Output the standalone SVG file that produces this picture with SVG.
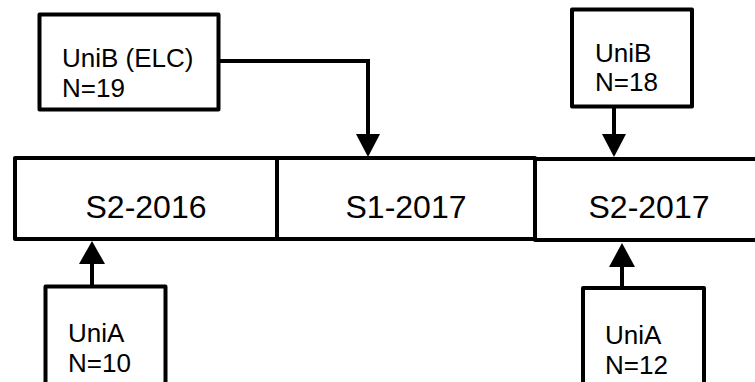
<svg xmlns="http://www.w3.org/2000/svg" width="755" height="382" viewBox="0 0 755 382">
<style>
.box{fill:#fff;stroke:#000;stroke-width:4;stroke-linejoin:round}
.sm{font-family:"Liberation Sans",Arial,sans-serif;font-size:26px;fill:#000}
.lg{font-family:"Liberation Sans",Arial,sans-serif;font-size:32px;fill:#000;text-anchor:middle}
.conn{fill:none;stroke:#000;stroke-width:4}
.head{fill:#000}
</style>
<rect width="755" height="382" fill="#fff"/>
<g id="connectors">
<polyline class="conn" points="219,61 368,61 368,136"/>
<polygon class="head" points="356,134 380,134 368,157"/>
<line class="conn" x1="614" y1="107" x2="614" y2="136"/>
<polygon class="head" points="602,134 626,134 614,157"/>
<line class="conn" x1="92" y1="287" x2="92" y2="262"/>
<polygon class="head" points="79,264 105,264 92,241"/>
<line class="conn" x1="622" y1="289" x2="622" y2="265"/>
<polygon class="head" points="609,267 635,267 622,243"/>
</g>
<g id="s2-2016">
<rect class="box" x="15" y="158" width="262" height="81"/>
<text class="lg" x="146" y="218">S2-2016</text>
</g>
<g id="s1-2017">
<rect class="box" x="277" y="158" width="258" height="81"/>
<text class="lg" x="406" y="218">S1-2017</text>
</g>
<g id="s2-2017">
<rect class="box" x="535" y="159" width="230" height="81"/>
<text class="lg" x="649" y="218">S2-2017</text>
</g>
<g id="unib-elc">
<rect class="box" x="39.5" y="14.5" width="179" height="95"/>
<text class="sm" x="62" y="67">UniB (ELC)</text>
<text class="sm" x="62" y="97">N=19</text>
</g>
<g id="unib">
<rect class="box" x="572" y="9.5" width="120" height="97"/>
<text class="sm" x="595" y="62">UniB</text>
<text class="sm" x="595" y="91">N=18</text>
</g>
<g id="unia-10">
<rect class="box" x="45.5" y="286.5" width="120" height="110"/>
<text class="sm" x="68" y="342">UniA</text>
<text class="sm" x="68" y="372">N=10</text>
</g>
<g id="unia-12">
<rect class="box" x="583" y="288" width="121" height="110"/>
<text class="sm" x="605" y="344">UniA</text>
<text class="sm" x="605" y="374">N=12</text>
</g>
</svg>
